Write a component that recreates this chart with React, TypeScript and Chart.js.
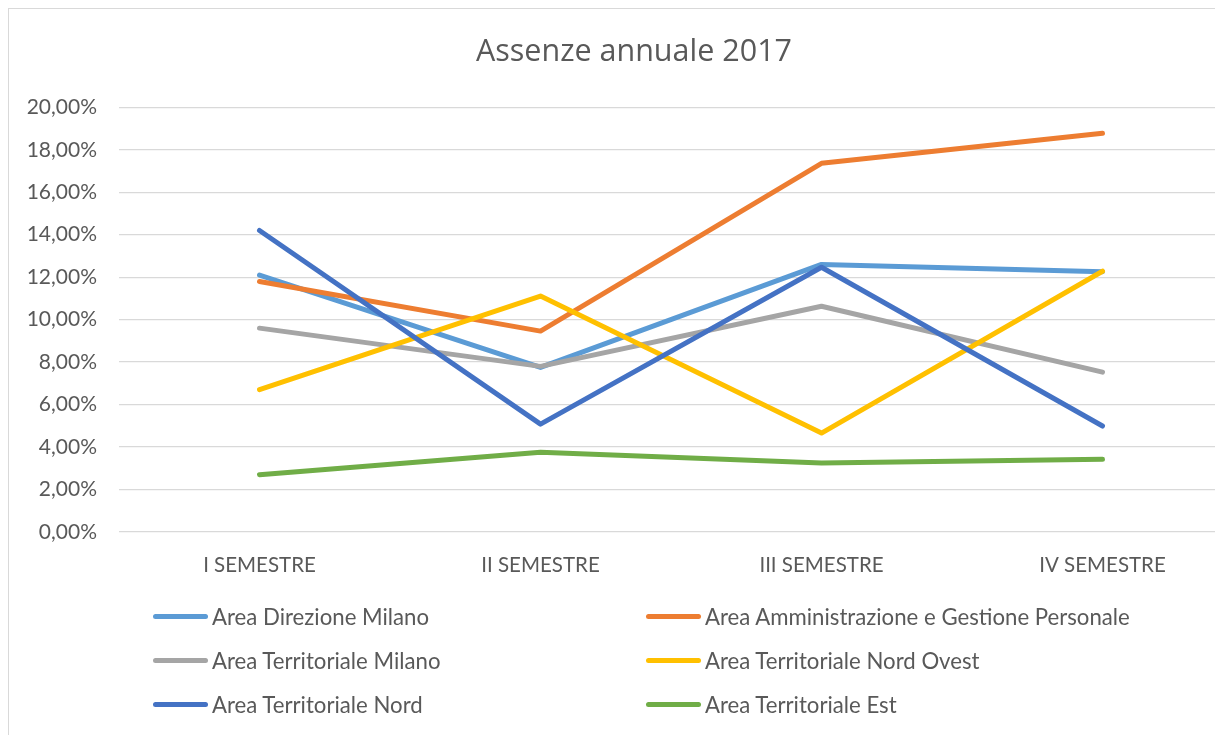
import React, { useEffect, useRef } from "react";
import { Chart, registerables } from "chart.js";

Chart.register(...registerables);

const titleText = "Assenze annuale 2017";
const categories = ["I SEMESTRE", "II SEMESTRE", "III SEMESTRE", "IV SEMESTRE"];
const seriesNames = [
  "Area Direzione Milano",
  "Area Amministrazione e Gestione Personale",
  "Area Territoriale Milano",
  "Area Territoriale Nord Ovest",
  "Area Territoriale Nord",
  "Area Territoriale Est",
];
const direzioneMilano = [12.1, 7.75, 12.6, 12.26];
const amministrazioneGestione = [11.8, 9.46, 17.36, 18.78];
const territorialeMilano = [9.6, 7.8, 10.63, 7.53];
const territorialeNordOvest = [6.7, 11.11, 4.66, 12.28];
const territorialeNord = [14.2, 5.08, 12.47, 4.99];
const territorialeEst = [2.7, 3.76, 3.25, 3.43];
const yTickValues = [0, 2, 4, 6, 8, 10, 12, 14, 16, 18, 20];

const seriesValues = [
  direzioneMilano,
  amministrazioneGestione,
  territorialeMilano,
  territorialeNordOvest,
  territorialeNord,
  territorialeEst,
];
const seriesColors = ["#5B9BD5", "#ED7D31", "#A5A5A5", "#FFC000", "#4472C4", "#70AD47"];

const FONT = "Lato, 'Open Sans', sans-serif";
const TITLE_FONT = "'Open Sans', Lato, sans-serif";
const TEXT = "#595959";

const fmt = (v: number) => v.toFixed(2).replace(".", ",") + "%";

// Centre the title on the whole chart box rather than on the padded area.
const titleCentre = {
  id: "titleCentre",
  afterLayout(chart: any) {
    const t = chart.titleBlock;
    if (t) {
      t.left = 0;
      t.right = chart.width - 28;
    }
  },
};

export default function App() {
  const ref = useRef<HTMLCanvasElement | null>(null);

  useEffect(() => {
    if (!ref.current) return;
    const chart = new Chart(ref.current, {
      type: "line",
      data: {
        labels: categories,
        datasets: seriesValues.map((vals, i) => ({
          label: seriesNames[i],
          data: vals,
          borderColor: seriesColors[i],
          backgroundColor: seriesColors[i],
          borderWidth: 5,
          borderCapStyle: "round" as const,
          borderJoinStyle: "round" as const,
          pointRadius: 0,
          pointHoverRadius: 0,
          tension: 0,
          fill: false,
          order: seriesValues.length - 1 - i,
        })),
      },
      options: {
        responsive: false,
        animation: false,
        events: [],
        layout: { padding: { left: 0, right: 44, top: 0, bottom: 175 } },
        plugins: {
          legend: { display: false },
          tooltip: { enabled: false },
          title: {
            display: true,
            text: titleText,
            color: TEXT,
            font: { family: TITLE_FONT, size: 30.5, weight: "normal", lineHeight: 1.2 },
            padding: { top: 25.5, bottom: 36.2 },
          },
        },
        scales: {
          x: {
            type: "category",
            offset: true,
            grid: { display: false, drawTicks: false },
            border: { display: false },
            ticks: {
              color: TEXT,
              font: { family: FONT, size: 20.5 },
              padding: 21,
              maxRotation: 0,
              autoSkip: false,
            },
            afterFit: (s: any) => {
              s.height = 60;
            },
          },
          y: {
            type: "linear",
            min: 0,
            max: 20,
            grid: { color: "#D9D9D9", lineWidth: 1.3, drawTicks: false },
            border: { display: false },
            ticks: {
              color: TEXT,
              font: { family: FONT, size: 21 },
              padding: 22,
              callback: (v: any) => fmt(Number(v)),
            },
            afterBuildTicks: (s: any) => {
              s.ticks = yTickValues.map((v) => ({ value: v }));
            },
            afterFit: (s: any) => {
              s.width = 110;
            },
          },
        },
      },
      plugins: [titleCentre],
    });
    return () => chart.destroy();
  }, []);

  const legendRows = [0, 1, 2];
  const rowCenters = [607, 651, 695];
  const colLefts = [144, 637];

  return (
    <div
      style={{
        position: "fixed",
        left: 0,
        top: 0,
        width: 1215,
        height: 735,
        overflow: "hidden",
        background: "#fff",
      }}
    >
      <div
        style={{
          position: "absolute",
          left: 8,
          top: 8,
          width: 1280,
          height: 760,
          border: "1px solid #D9D9D9",
          boxSizing: "border-box",
        }}
      >
        <canvas
          ref={ref}
          width={1278}
          height={758}
          style={{ position: "absolute", left: 0, top: 0, width: 1278, height: 758 }}
        />
        {seriesNames.map((name, i) => {
          const row = legendRows[Math.floor(i / 2)];
          const col = i % 2;
          return (
            <div
              key={name}
              style={{
                position: "absolute",
                left: colLefts[col],
                top: rowCenters[row] - 15,
                height: 30,
                display: "flex",
                alignItems: "center",
                whiteSpace: "nowrap",
                fontFamily: FONT,
                fontSize: 22.2,
                color: TEXT,
              }}
            >
              <span
                style={{
                  display: "inline-block",
                  width: 55,
                  height: 5,
                  borderRadius: 3,
                  background: seriesColors[i],
                }}
              />
              <span style={{ marginLeft: 4 }}>{name}</span>
            </div>
          );
        })}
      </div>
    </div>
  );
}
